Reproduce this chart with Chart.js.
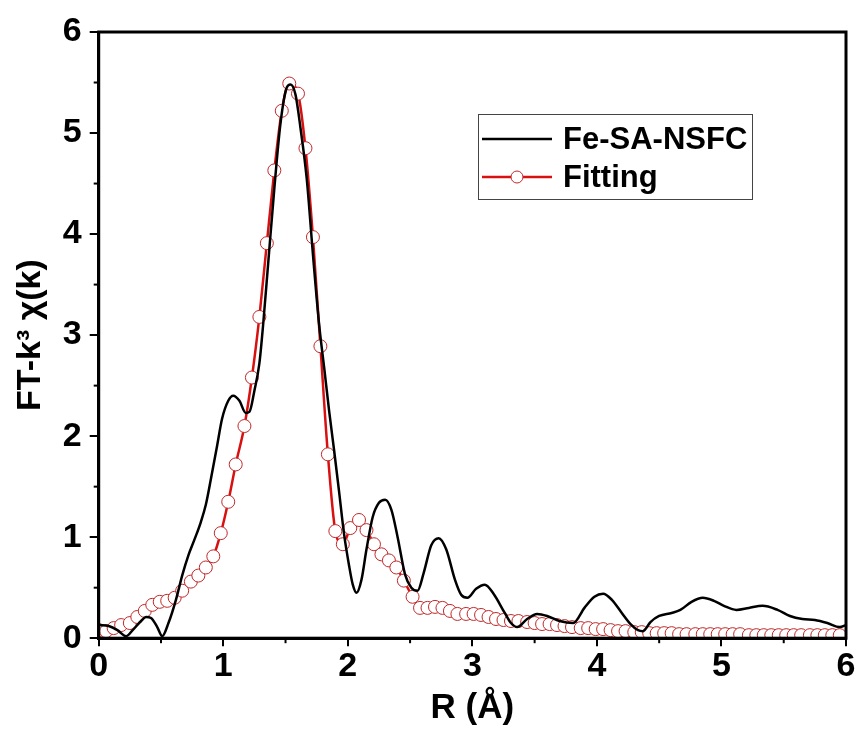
<!DOCTYPE html>
<html>
<head>
<meta charset="utf-8">
<script src="https://cdn.jsdelivr.net/npm/chart.js@4.4.0/dist/chart.umd.min.js"></script>
<style>
    body { margin: 0; background: #fff; }
    #wrap { position: relative; width: 860px; height: 733px; }
</style>
</head>
<body>
<div id="wrap"><canvas id="ft_chart" width="860" height="733"></canvas></div>
<script>
// ---- data ----
const seriesNames = ["Fe-SA-NSFC", "Fitting"];

const expR = [0, 0.08, 0.15, 0.22, 0.28, 0.34, 0.38, 0.42, 0.47, 0.51, 0.56, 0.62, 0.67, 0.72, 0.77, 0.82, 0.86, 0.9, 0.95, 0.99,
    1.04, 1.08, 1.13, 1.18, 1.21, 1.25, 1.29, 1.32, 1.36, 1.41, 1.46, 1.51, 1.54, 1.58, 1.62, 1.67, 1.72, 1.77, 1.81, 1.85,
    1.89, 1.93, 1.97, 2.01, 2.04, 2.07, 2.11, 2.15, 2.2, 2.25, 2.3, 2.35, 2.4, 2.46, 2.51, 2.56, 2.61, 2.67, 2.73, 2.79,
    2.86, 2.91, 2.96, 3.03, 3.1, 3.17, 3.26, 3.31, 3.36, 3.44, 3.52, 3.6, 3.7, 3.81, 3.9, 3.98, 4.05, 4.12, 4.2, 4.27,
    4.33, 4.37, 4.43, 4.5, 4.6, 4.67, 4.76, 4.85, 4.94, 5.02, 5.12, 5.22, 5.33, 5.45, 5.55, 5.65, 5.75, 5.85, 5.95, 6.0];
const expChi = [0.13, 0.12, 0.08, 0.02, 0.09, 0.17, 0.21, 0.2, 0.11, 0.02, 0.15, 0.38, 0.62, 0.82, 0.98, 1.15, 1.32, 1.57, 1.9, 2.17,
    2.35, 2.4, 2.35, 2.23, 2.24, 2.45, 2.72, 3.1, 3.7, 4.45, 5.1, 5.45, 5.48, 5.38, 5.05, 4.55, 3.8, 3.1, 2.68, 2.25,
    1.86, 1.45, 1.03, 0.72, 0.53, 0.45, 0.58, 0.88, 1.2, 1.34, 1.37, 1.27, 1.0, 0.63, 0.5, 0.47, 0.65, 0.92, 0.99, 0.88,
    0.58, 0.43, 0.4, 0.49, 0.53, 0.44, 0.25, 0.15, 0.11, 0.19, 0.24, 0.22, 0.17, 0.15, 0.3, 0.41, 0.44, 0.38, 0.25, 0.14,
    0.08, 0.07, 0.16, 0.22, 0.25, 0.28, 0.36, 0.4, 0.37, 0.32, 0.28, 0.3, 0.32, 0.28, 0.22, 0.19, 0.18, 0.15, 0.11, 0.13];

const fitR = [0.00, 0.06, 0.12, 0.18, 0.25, 0.31, 0.37, 0.43, 0.49, 0.55, 0.61, 0.67, 0.74, 0.80, 0.86, 0.92, 0.98, 1.04, 1.10, 1.17,
    1.23, 1.29, 1.35, 1.41, 1.47, 1.53, 1.60, 1.66, 1.72, 1.78, 1.84, 1.90, 1.96, 2.02, 2.09, 2.15, 2.21, 2.27, 2.33, 2.39,
    2.45, 2.52, 2.58, 2.64, 2.70, 2.76, 2.82, 2.88, 2.95, 3.01, 3.07, 3.13, 3.19, 3.25, 3.31, 3.37, 3.44, 3.50, 3.56, 3.62,
    3.68, 3.74, 3.80, 3.87, 3.93, 3.99, 4.05, 4.11, 4.17, 4.23, 4.30, 4.36, 4.42, 4.48, 4.54, 4.60, 4.66, 4.72, 4.79, 4.85,
    4.91, 4.97, 5.03, 5.09, 5.15, 5.22, 5.28, 5.34, 5.40, 5.46, 5.52, 5.58, 5.64, 5.71, 5.77, 5.83, 5.89, 5.95];
const fitChi = [0.08, 0.07, 0.10, 0.13, 0.15, 0.21, 0.27, 0.33, 0.36, 0.37, 0.40, 0.47, 0.56, 0.62, 0.70, 0.81, 1.04, 1.35, 1.72, 2.10,
    2.58, 3.18, 3.91, 4.63, 5.22, 5.49, 5.39, 4.85, 3.97, 2.89, 1.82, 1.06, 0.93, 1.09, 1.17, 1.07, 0.93, 0.83, 0.77, 0.70,
    0.57, 0.41, 0.30, 0.30, 0.31, 0.30, 0.27, 0.24, 0.24, 0.24, 0.23, 0.21, 0.19, 0.18, 0.17, 0.17, 0.16, 0.15, 0.14, 0.14,
    0.13, 0.12, 0.11, 0.10, 0.10, 0.09, 0.09, 0.08, 0.07, 0.07, 0.06, 0.06, 0.05, 0.05, 0.05, 0.05, 0.04, 0.04, 0.04, 0.04,
    0.04, 0.04, 0.04, 0.04, 0.04, 0.03, 0.03, 0.03, 0.03, 0.03, 0.03, 0.03, 0.03, 0.03, 0.03, 0.03, 0.03, 0.03];

const xTicks = [0, 1, 2, 3, 4, 5, 6];
const yTicks = [0, 1, 2, 3, 4, 5, 6];

const FONT = "'Liberation Sans', Arial, sans-serif";
const RED = "#d81010";

// frame, minor ticks and the boxed legend, drawn from the scales
const framePlugin = {
    id: "frame",
    afterDraw(chart) {
        const ctx = chart.ctx;
        const a = chart.chartArea;
        const xs = chart.scales.x;
        const ys = chart.scales.y;
        ctx.save();
        ctx.strokeStyle = "#000";
        ctx.lineWidth = 3;
        ctx.strokeRect(a.left, a.top, a.right - a.left, a.bottom - a.top);

        ctx.lineWidth = 2;
        for (let i = 0; i < xTicks.length - 1; i++) {
            const px = xs.getPixelForValue((xTicks[i] + xTicks[i + 1]) / 2);
            ctx.beginPath();
            ctx.moveTo(px, a.bottom);
            ctx.lineTo(px, a.bottom + 5);
            ctx.stroke();
        }
        for (let i = 0; i < yTicks.length - 1; i++) {
            const py = ys.getPixelForValue((yTicks[i] + yTicks[i + 1]) / 2);
            ctx.beginPath();
            ctx.moveTo(a.left, py);
            ctx.lineTo(a.left - 5, py);
            ctx.stroke();
        }

        // legend box
        const lx = 478, ly = 114, lw = 274, lh = 85;
        ctx.lineWidth = 1;
        ctx.strokeStyle = "#444";
        ctx.strokeRect(lx + 0.5, ly + 0.5, lw, lh);
        const rows = [ly + 25, ly + 63];
        chart.data.datasets.forEach((ds, i) => {
            const y = rows[i];
            ctx.strokeStyle = ds.borderColor;
            ctx.lineWidth = 2.5;
            ctx.beginPath();
            ctx.moveTo(lx + 4, y);
            ctx.lineTo(lx + 74, y);
            ctx.stroke();
            if (ds.pointRadius > 0) {
                ctx.beginPath();
                ctx.arc(lx + 39, y, 6, 0, Math.PI * 2);
                ctx.fillStyle = "#fff";
                ctx.fill();
                ctx.lineWidth = 1;
                ctx.strokeStyle = ds.pointBorderColor;
                ctx.stroke();
            }
            ctx.fillStyle = "#000";
            ctx.font = "bold 31px " + FONT;
            ctx.textBaseline = "middle";
            ctx.fillText(ds.label, lx + 85, y + 1);
        });
        ctx.restore();
    },
};

new Chart(document.getElementById("ft_chart"), {
    type: "line",
    data: {
        datasets: [
            {
                label: seriesNames[0],
                data: expR.map((r, i) => ({ x: r, y: expChi[i] })),
                borderColor: "#000",
                borderWidth: 2.5,
                pointRadius: 0,
                cubicInterpolationMode: "monotone",
                fill: false,
            },
            {
                label: seriesNames[1],
                data: fitR.map((r, i) => ({ x: r, y: fitChi[i] })),
                borderColor: RED,
                borderWidth: 2.5,
                pointRadius: 6.5,
                pointBackgroundColor: "#fff",
                pointBorderColor: "#c0282a",
                pointBorderWidth: 1,
                cubicInterpolationMode: "monotone",
                fill: false,
            },
        ],
    },
    options: {
        responsive: false,
        animation: false,
        devicePixelRatio: 1,
        layout: { padding: { left: 10, right: 14, top: 32, bottom: 4 } },
        plugins: {
            legend: { display: false },
            tooltip: { enabled: false },
        },
        scales: {
            x: {
                type: "linear",
                min: 0,
                max: 6,
                afterBuildTicks: (s) => { s.ticks = xTicks.map((v) => ({ value: v })); },
                ticks: { color: "#000", font: { family: FONT, size: 34, weight: "bold" }, padding: 0 },
                grid: { drawOnChartArea: false, drawTicks: true, tickLength: 8, lineWidth: 2, color: "#000" },
                border: { display: true, color: "#000", width: 3 },
                title: {
                    display: true,
                    text: "R (Å)",
                    color: "#000",
                    font: { family: FONT, size: 35, weight: "bold" },
                    padding: { top: 0, bottom: 0 },
                },
            },
            y: {
                type: "linear",
                min: 0,
                max: 6,
                afterBuildTicks: (s) => { s.ticks = yTicks.map((v) => ({ value: v })); },
                ticks: { color: "#000", font: { family: FONT, size: 34, weight: "bold" }, padding: 8 },
                grid: { drawOnChartArea: false, drawTicks: true, tickLength: 9, lineWidth: 2, color: "#000" },
                border: { display: true, color: "#000", width: 3 },
                title: {
                    display: true,
                    text: "FT-k³ χ(k)",
                    color: "#000",
                    font: { family: FONT, size: 34, weight: "bold" },
                    padding: { top: 0, bottom: 4 },
                },
            },
        },
    },
    plugins: [framePlugin],
});
</script>
</body>
</html>
